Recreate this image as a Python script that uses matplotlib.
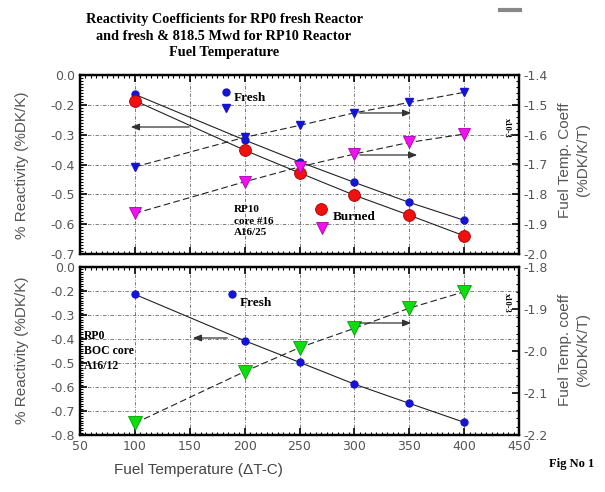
import matplotlib
matplotlib.use("Agg")
import matplotlib.pyplot as plt
from matplotlib.ticker import MultipleLocator, FixedLocator, FixedFormatter

# ---------------- data ----------------
temp = [100, 200, 250, 300, 350, 400]

# top panel (RP10): reactivity (left axis)
rp10_fresh_react = [-0.165, -0.318, -0.391, -0.460, -0.527, -0.587]
rp10_burn_react = [-0.186, -0.352, -0.428, -0.503, -0.570, -0.639]
# top panel: temperature coefficient x1e-3 (right axis)
rp10_fresh_coeff = [-1.708, -1.609, -1.569, -1.527, -1.492, -1.458]
rp10_burn_coeff = [-1.864, -1.758, -1.708, -1.665, -1.626, -1.598]

# bottom panel (RP0)
rp0_fresh_react = [-0.214, -0.407, -0.497, -0.588, -0.668, -0.747]
rp0_fresh_coeff = [-2.172, -2.049, -1.992, -1.946, -1.898, -1.859]

x_ticks = [50, 100, 150, 200, 250, 300, 350, 400, 450]
top_left_ticks = [-0.7, -0.6, -0.5, -0.4, -0.3, -0.2, -0.1]
top_left_labels = ["-0.7", "-0.6", "-0.5", "-0.4", "-0.3", "-0.2", "0.0"]
top_right_ticks = [-2.0, -1.9, -1.8, -1.7, -1.6, -1.5, -1.4]
bot_left_ticks = [-0.8, -0.7, -0.6, -0.5, -0.4, -0.3, -0.2, -0.1]
bot_left_labels = ["-0.8", "-0.7", "-0.6", "-0.5", "-0.4", "-0.3", "-0.2", "0.0"]
bot_right_ticks = [-2.2, -2.1, -2.0, -1.9, -1.8]

# ---------------- style ----------------
BLUE = "#1414d2"
RED = "#f01010"
MAG = "#f010f0"
GREEN = "#10dc10"
TICKC = "#555555"
SANS = "Liberation Sans"
SERIF = "Liberation Serif"

fig = plt.figure(figsize=(6.05, 4.92), dpi=100)
W, H = 605.0, 492.0

def ax_rect(l, t, r, b):
    return [l / W, 1 - b / H, (r - l) / W, (b - t) / H]

ax1 = fig.add_axes(ax_rect(80, 75, 519, 254))
ax2 = fig.add_axes(ax_rect(80, 267, 519, 435))
ax1r = ax1.twinx()
ax2r = ax2.twinx()

for a in (ax1, ax2):
    a.set_xlim(50, 450)
    a.xaxis.set_major_locator(FixedLocator(x_ticks))
    a.xaxis.set_minor_locator(MultipleLocator(5))
    a.grid(True, which="major", color="#666666", linestyle=(0, (4, 2, 1, 2)), linewidth=0.6)
    for s in a.spines.values():
        s.set_linewidth(1.6)
        s.set_color("black")
    a.tick_params(which="both", direction="in", top=True, colors="black",
                  labelcolor=TICKC, labelsize=9)
    a.tick_params(which="major", length=5, width=1.2)
    a.tick_params(which="minor", length=2.5, width=0.8)
    a.set_axisbelow(True)

for a in (ax1r, ax2r):
    a.tick_params(which="both", direction="in", colors="black", labelcolor=TICKC, labelsize=9)
    a.tick_params(which="major", length=5, width=1.2)
    a.tick_params(which="minor", length=2.5, width=0.8)
    for s in a.spines.values():
        s.set_linewidth(1.6)

# top panel axes
ax1.set_ylim(-0.7, -0.1)
ax1.yaxis.set_major_locator(FixedLocator(top_left_ticks))
ax1.yaxis.set_major_formatter(FixedFormatter(top_left_labels))
ax1.yaxis.set_minor_locator(MultipleLocator(0.01))
ax1.tick_params(axis="x", labelbottom=False)
ax1r.set_ylim(-2.0, -1.4)
ax1r.yaxis.set_major_locator(FixedLocator(top_right_ticks))
ax1r.yaxis.set_minor_locator(MultipleLocator(0.02))
ax1r.yaxis.set_major_formatter(matplotlib.ticker.FormatStrFormatter("%.1f"))

# bottom panel axes
ax2.set_ylim(-0.8, -0.1)
ax2.yaxis.set_major_locator(FixedLocator(bot_left_ticks))
ax2.yaxis.set_major_formatter(FixedFormatter(bot_left_labels))
ax2.yaxis.set_minor_locator(MultipleLocator(0.01))
ax2r.set_ylim(-2.2, -1.8)
ax2r.yaxis.set_major_locator(FixedLocator(bot_right_ticks))
ax2r.yaxis.set_minor_locator(MultipleLocator(0.02))
ax2r.yaxis.set_major_formatter(matplotlib.ticker.FormatStrFormatter("%.1f"))

# ---------------- data series ----------------
lw = 0.8
ax1.plot(temp, rp10_fresh_react, color="#222222", lw=lw, marker="o", ms=5,
         mfc=BLUE, mec=BLUE, zorder=3)
ax1.plot(temp, rp10_burn_react, color="#222222", lw=lw, marker="o", ms=8.5,
         mfc=RED, mec="#aa0000", mew=0.6, zorder=3)
ax1r.plot(temp, rp10_fresh_coeff, color="#222222", lw=lw, ls=(0, (6, 3)), marker="v",
          ms=6, mfc=BLUE, mec=BLUE, zorder=3)
ax1r.plot(temp, rp10_burn_coeff, color="#222222", lw=lw, ls=(0, (6, 3)), marker="v",
          ms=9, mfc=MAG, mec="#aa00aa", mew=0.6, zorder=3)

ax2.plot(temp, rp0_fresh_react, color="#222222", lw=lw, marker="o", ms=5,
         mfc=BLUE, mec=BLUE, zorder=3)
ax2r.plot(temp, rp0_fresh_coeff, color="#222222", lw=lw, ls=(0, (6, 3)), marker="v",
          ms=9.5, mfc=GREEN, mec="#00a000", mew=0.6, zorder=3)

# ---------------- annotations (figure pixel coords) ----------------
def fx(px):
    return px / W

def fy(py):
    return 1 - py / H

def arrow(x0, y0, x1, y1):
    fig.add_artist(matplotlib.patches.FancyArrowPatch(
        (fx(x0), fy(y0)), (fx(x1), fy(y1)), transform=fig.transFigure,
        arrowstyle="-|>,head_length=5,head_width=2", color="#333333", lw=0.9,
        mutation_scale=1))

# top panel legend-like markers
fig.add_artist(matplotlib.lines.Line2D([fx(226)], [fy(92)], marker="o", ms=5,
                                       mfc=BLUE, mec=BLUE, transform=fig.transFigure))
fig.add_artist(matplotlib.lines.Line2D([fx(226)], [fy(108)], marker="v", ms=6,
                                       mfc=BLUE, mec=BLUE, transform=fig.transFigure))
fig.text(fx(234), fy(98), "Fresh", family=SERIF, fontweight="bold", fontsize=9.5,
         va="center", ha="left")
fig.add_artist(matplotlib.lines.Line2D([fx(321)], [fy(209)], marker="o", ms=8.5,
                                       mfc=RED, mec="#aa0000", mew=0.6,
                                       transform=fig.transFigure))
fig.add_artist(matplotlib.lines.Line2D([fx(322)], [fy(228)], marker="v", ms=9,
                                       mfc=MAG, mec="#aa00aa", mew=0.6,
                                       transform=fig.transFigure))
fig.text(fx(333), fy(217), "Burned", family=SERIF, fontweight="bold", fontsize=9.5,
         va="center", ha="left")
fig.text(fx(234), fy(221), "RP10\ncore #16\nA16/25", family=SERIF, fontweight="bold",
         fontsize=8, va="center", ha="left", linespacing=1.3)

arrow(192, 127, 128, 127)
arrow(357, 113, 414, 113)
arrow(357, 155, 420, 155)

# bottom panel
fig.add_artist(matplotlib.lines.Line2D([fx(232)], [fy(294)], marker="o", ms=5,
                                       mfc=BLUE, mec=BLUE, transform=fig.transFigure))
fig.text(fx(240), fy(303), "Fresh", family=SERIF, fontweight="bold", fontsize=9.5,
         va="center", ha="left")
fig.text(fx(84), fy(351), "RP0\nBOC core\nA16/12", family=SERIF, fontweight="bold",
         fontsize=8.5, va="center", ha="left", linespacing=1.3)
arrow(230, 338, 190, 338)
arrow(357, 323, 414, 323)

# x10-3 labels
fig.text(fx(507), fy(128), "x10-3", fontsize=6, family=SERIF, fontweight="bold",
         rotation=270, ha="center", va="center")
fig.text(fx(507), fy(303), "x10-3", fontsize=6, family=SERIF, fontweight="bold",
         rotation=270, ha="center", va="center")

# axis labels
lab_kw = dict(family=SANS, fontsize=11, color="#555555", ha="center", va="center")
fig.text(fx(22), fy(165), "% Reactivity (%DK/K)", rotation=90, **lab_kw)
fig.text(fx(22), fy(350), "% Reactivity (%DK/K)", rotation=90, **lab_kw)
fig.text(fx(565), fy(160), "Fuel Temp. Coeff", rotation=90, **lab_kw)
fig.text(fx(583), fy(160), "(%DK/K/T)", rotation=90, **lab_kw)
fig.text(fx(565), fy(350), "Fuel Temp. coeff", rotation=90, **lab_kw)
fig.text(fx(583), fy(350), "(%DK/K/T)", rotation=90, **lab_kw)
fig.text(fx(198), fy(470), "Fuel Temperature (\u0394T-C)", family=SANS, fontsize=11,
         color="#444444", ha="center", va="center")

# title
fig.text(fx(224), fy(36),
         "Reactivity Coefficients for RP0 fresh Reactor\nand fresh & 818.5 Mwd for RP10 Reactor\nFuel Temperature",
         family=SERIF, fontweight="bold", fontsize=10.3, ha="center", va="center",
         linespacing=1.35)
fig.text(fx(572), fy(464), "Fig No 1", family=SERIF, fontweight="bold", fontsize=9,
         ha="center", va="center")
fig.add_artist(matplotlib.lines.Line2D([fx(500), fx(520)], [fy(10), fy(10)],
                                       color="#888888", lw=3, transform=fig.transFigure))

fig.savefig("out.png", dpi=100)
